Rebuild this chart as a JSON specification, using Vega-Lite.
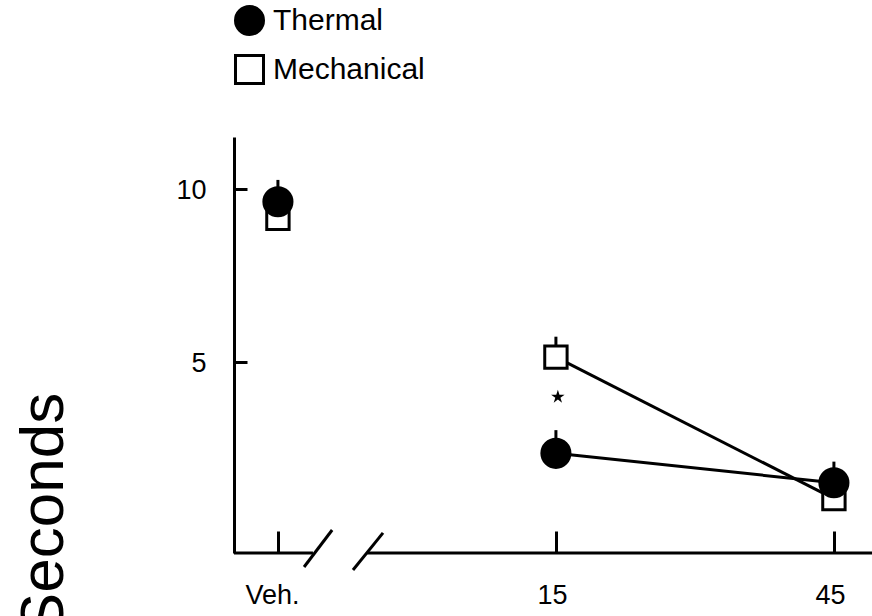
{
  "$schema": "https://vega.github.io/schema/vega-lite/v6.json",
  "width": 638,
  "height": 416,
  "autosize": {"type": "none"},
  "padding": {"left": 234, "top": 137, "right": 0, "bottom": 63},
  "background": "white",
  "config": {
    "view": {"stroke": null},
    "font": "Liberation Sans",
    "legend": {
      "title": null, "orient": "none", "legendX": 0, "legendY": -132,
      "symbolSize": 784, "symbolStrokeWidth": 3, "symbolStrokeColor": "black",
      "labelFontSize": 30, "labelFontWeight": "normal", "labelColor": "black",
      "labelOffset": 8, "rowPadding": 8, "padding": 0
    }
  },
  "datasets": {
    "points": [
      {"dose": "Veh.", "pos": 0, "series": "Mechanical", "mean": 9.15, "upper": 9.6},
      {"dose": "15", "pos": 1, "series": "Mechanical", "mean": 5.14, "upper": 5.73},
      {"dose": "45", "pos": 2, "series": "Mechanical", "mean": 1.05, "upper": 1.4},
      {"dose": "Veh.", "pos": 0, "series": "Thermal", "mean": 9.63, "upper": 10.26},
      {"dose": "15", "pos": 1, "series": "Thermal", "mean": 2.36, "upper": 3.03},
      {"dose": "45", "pos": 2, "series": "Thermal", "mean": 1.51, "upper": 2.12}
    ],
    "sig": [{"pos": 1.007, "value": 3.99}],
    "axisline": [
      {"x": -0.158, "x2": 0.126, "y": -0.52, "y2": -0.52},
      {"x": 0.321, "x2": 2.137, "y": -0.52, "y2": -0.52}
    ],
    "breaks": [
      {"x": 0.094, "x2": 0.195, "y": -0.925, "y2": 0.145},
      {"x": 0.27, "x2": 0.378, "y": -1.01, "y2": 0.06}
    ]
  },
  "encoding": {
    "x": {
      "field": "pos", "type": "quantitative",
      "scale": {"domain": [-0.158, 2.137], "nice": false, "zero": false},
      "axis": {
        "title": null, "values": [0, 1, 2],
        "labelExpr": "datum.value == 0 ? 'Veh.' : datum.value == 1 ? '15' : '45'",
        "domain": false, "grid": false,
        "tickSize": -22, "tickWidth": 3, "tickColor": "black",
        "labelFontSize": 27, "labelFontWeight": "normal", "labelColor": "black",
        "labelPadding": 51, "labelFlush": false,
        "labelOffset": {"condition": {"test": "datum.value == 0", "value": -6}, "value": -4}
      }
    },
    "y": {
      "field": "mean", "type": "quantitative",
      "scale": {"domain": [-0.52, 11.5], "nice": false, "zero": false},
      "axis": {
        "values": [5, 10], "grid": false,
        "domainWidth": 3, "domainColor": "black",
        "tickSize": -13, "tickWidth": 3, "tickColor": "black",
        "labelFontSize": 27, "labelFontWeight": "normal", "labelColor": "black",
        "labelPadding": 41, "labelOffset": 2,
        "title": "Seconds", "titleFontSize": 62, "titleFontWeight": "normal",
        "titleColor": "black", "titleX": -172, "titleY": 376,
        "titleAlign": "center", "titleBaseline": "alphabetic", "titleAngle": -90
      }
    }
  },
  "layer": [
    {
      "data": {"name": "points"},
      "transform": [{"filter": "datum.pos > 0"}],
      "mark": {"type": "line", "color": "black", "strokeWidth": 3},
      "encoding": {
        "detail": {"field": "series"}
      }
    },
    {
      "data": {"name": "points"},
      "mark": {"type": "rule", "color": "black", "strokeWidth": 3},
      "encoding": {
        "y2": {"field": "upper"}
      }
    },
    {
      "data": {"name": "points"},
      "transform": [{"filter": "datum.series == 'Mechanical'"}],
      "mark": {"type": "point", "filled": true, "opacity": 1, "size": 500, "strokeWidth": 3},
      "encoding": {
        "shape": {
          "field": "series", "type": "nominal",
          "scale": {"domain": ["Thermal", "Mechanical"], "range": ["circle", "square"]}
        },
        "fill": {
          "field": "series", "type": "nominal",
          "scale": {"domain": ["Thermal", "Mechanical"], "range": ["black", "white"]}
        },
        "stroke": {
          "field": "series", "type": "nominal",
          "scale": {"domain": ["Thermal", "Mechanical"], "range": ["black", "black"]}
        }
      }
    },
    {
      "data": {"name": "points"},
      "transform": [{"filter": "datum.series == 'Thermal'"}],
      "mark": {"type": "point", "filled": true, "opacity": 1, "size": 790, "strokeWidth": 3},
      "encoding": {
        "shape": {
          "field": "series", "type": "nominal",
          "scale": {"domain": ["Thermal", "Mechanical"], "range": ["circle", "square"]}
        },
        "fill": {
          "field": "series", "type": "nominal",
          "scale": {"domain": ["Thermal", "Mechanical"], "range": ["black", "white"]}
        },
        "stroke": {
          "field": "series", "type": "nominal",
          "scale": {"domain": ["Thermal", "Mechanical"], "range": ["black", "black"]}
        }
      }
    },
    {
      "data": {"name": "sig"},
      "mark": {
        "type": "point", "filled": true, "color": "black", "size": 200, "opacity": 1,
        "shape": "M0,-1L0.2245,-0.309L0.951,-0.309L0.363,0.118L0.588,0.809L0,0.382L-0.588,0.809L-0.363,0.118L-0.951,-0.309L-0.2245,-0.309Z"
      },
      "encoding": {
        "y": {"field": "value", "type": "quantitative"}
      }
    },
    {
      "data": {"name": "axisline"},
      "mark": {"type": "rule", "color": "black", "strokeWidth": 3},
      "encoding": {
        "x": {"field": "x", "type": "quantitative"},
        "x2": {"field": "x2"},
        "y": {"field": "y", "type": "quantitative"},
        "y2": {"field": "y2"}
      }
    },
    {
      "data": {"name": "breaks"},
      "mark": {"type": "rule", "color": "black", "strokeWidth": 3},
      "encoding": {
        "x": {"field": "x", "type": "quantitative"},
        "x2": {"field": "x2"},
        "y": {"field": "y", "type": "quantitative"},
        "y2": {"field": "y2"}
      }
    }
  ]
}
